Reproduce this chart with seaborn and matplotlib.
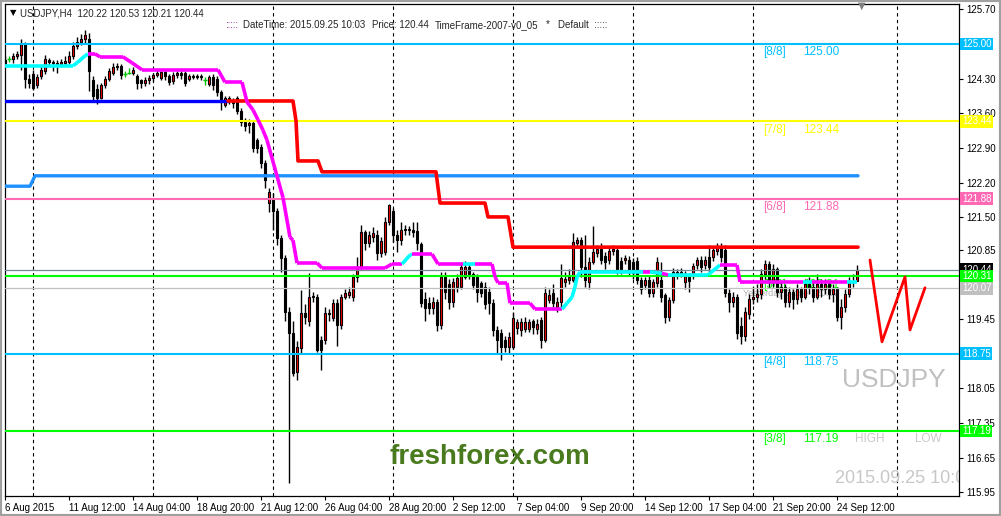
import numpy as np
import pandas as pd
import seaborn as sns
import matplotlib.pyplot as plt
import matplotlib.transforms as mtransforms
from matplotlib.collections import LineCollection
from matplotlib.patches import Rectangle

# ---- H4 candles, USDJPY 6 Aug 20:00 .. 25 Sep 08:00 ----
opens = [124.62, 124.70, 124.70, 124.76, 124.78, 125.00, 124.30, 124.40, 124.17, 124.35,
         124.45, 124.68, 124.64, 124.62, 124.60, 124.62, 124.64, 124.75, 124.95, 125.05,
         125.10, 125.10, 124.27, 124.10, 123.92, 124.17, 124.29, 124.42, 124.54, 124.55,
         124.40, 124.42, 124.42, 124.36, 124.27, 124.21, 124.27, 124.32, 124.37, 124.32,
         124.43, 124.35, 124.26, 124.38, 124.42, 124.42, 124.30, 124.34, 124.36, 124.34,
         124.27, 124.20, 124.33, 124.30, 124.03, 123.77, 123.90, 123.86, 123.90, 123.65,
         123.43, 123.37, 123.40, 123.06, 122.92, 122.60, 121.80, 121.85, 121.62, 121.08,
         120.68, 119.59, 119.17, 118.38, 118.87, 119.57, 119.40, 119.89, 119.89, 119.03,
         119.03, 119.57, 119.47, 119.77, 119.33, 119.89, 119.93, 119.90, 120.30, 120.50,
         121.21, 120.98, 121.10, 121.15, 120.78, 120.80, 121.40, 121.62, 121.15, 121.04,
         121.25, 121.27, 121.24, 121.22, 120.96, 119.85, 119.77, 119.67, 119.80, 119.33,
         120.30, 120.15, 119.80, 120.10, 120.10, 120.30, 120.50, 120.35, 120.30, 120.17,
         120.10, 120.00, 119.77, 119.23, 119.17, 119.03, 118.88, 118.88, 119.27, 119.23,
         119.25, 119.25, 119.40, 119.25, 119.43, 119.03, 119.83, 119.98, 119.70, 119.79,
         120.20, 120.24, 120.24, 120.98, 121.04, 120.50, 120.20, 120.60, 120.78, 120.86,
         120.72, 120.64, 120.82, 120.84, 120.62, 120.64, 120.64, 120.60, 120.62, 120.24,
         120.14, 120.24, 119.98, 120.18, 120.24, 119.93, 119.49, 119.83, 120.40, 120.36,
         120.20, 120.30, 120.34, 120.54, 120.64, 120.54, 120.70, 120.70, 120.82, 120.88,
         120.84, 119.98, 119.79, 119.90, 119.30, 119.10, 119.55, 119.85, 119.90, 119.95,
         120.35, 120.55, 120.20, 120.45, 120.00, 120.10, 119.80, 120.00, 119.85, 120.05,
         119.90, 120.15, 120.10, 119.90, 120.15, 120.05, 120.15, 119.95, 120.05, 119.50,
         119.70, 119.95, 120.20, 120.22]
highs = [124.75, 124.76, 124.82, 124.86, 125.10, 125.05, 124.40, 124.48, 124.40, 124.55,
         124.78, 124.72, 124.68, 124.68, 124.70, 124.75, 124.85, 125.05, 125.15, 125.20,
         125.28, 125.22, 124.35, 124.20, 124.22, 124.35, 124.52, 124.62, 124.62, 124.60,
         124.46, 124.52, 124.54, 124.40, 124.30, 124.33, 124.38, 124.42, 124.48, 124.46,
         124.48, 124.40, 124.44, 124.46, 124.46, 124.46, 124.40, 124.40, 124.40, 124.40,
         124.33, 124.38, 124.40, 124.35, 124.08, 123.95, 123.96, 123.92, 123.95, 123.70,
         123.50, 123.48, 123.45, 123.10, 122.98, 122.65, 122.10, 122.00, 121.70, 121.15,
         120.75, 119.70, 119.40, 119.00, 120.03, 119.75, 120.38, 120.00, 119.95, 119.10,
         119.70, 119.65, 119.85, 119.85, 119.95, 120.05, 120.10, 120.35, 120.70, 121.35,
         121.25, 121.22, 121.30, 121.25, 121.10, 121.50, 121.77, 121.70, 121.25, 121.40,
         121.35, 121.33, 121.40, 121.40, 121.00, 120.00, 119.90, 119.90, 119.85, 120.40,
         120.40, 120.25, 120.28, 120.35, 120.58, 120.62, 120.58, 120.40, 120.35, 120.22,
         120.20, 120.10, 119.85, 119.30, 119.25, 119.10, 119.18, 119.60, 119.45, 119.48,
         119.50, 119.45, 119.45, 119.45, 119.50, 120.10, 120.05, 120.15, 119.90, 120.55,
         120.40, 120.45, 121.18, 121.10, 121.10, 121.15, 120.70, 121.33, 120.95, 120.98,
         120.80, 120.90, 120.94, 120.92, 120.70, 120.75, 120.72, 120.68, 120.70, 120.30,
         120.30, 120.32, 120.25, 120.70, 120.60, 119.98, 119.90, 120.48, 120.45, 120.48,
         120.42, 120.38, 120.58, 120.70, 120.72, 120.72, 120.95, 120.90, 120.99, 120.99,
         120.95, 120.05, 120.00, 119.95, 119.50, 119.70, 119.95, 120.10, 120.15, 120.45,
         120.65, 120.62, 120.55, 120.50, 120.20, 120.15, 120.10, 120.05, 120.15, 120.10,
         120.25, 120.30, 120.20, 120.35, 120.25, 120.25, 120.20, 120.15, 120.10, 119.85,
         120.05, 120.30, 120.35, 120.53]
lows = [124.55, 124.64, 124.62, 124.70, 124.48, 124.12, 124.12, 124.08, 124.12, 124.30,
        124.40, 124.58, 124.45, 124.42, 124.56, 124.58, 124.60, 124.70, 124.90, 124.98,
        125.02, 124.05, 123.87, 123.78, 123.88, 124.12, 124.25, 124.38, 124.48, 124.30,
        124.33, 124.40, 124.38, 124.10, 124.12, 124.15, 124.20, 124.25, 124.33, 124.28,
        124.28, 124.18, 124.20, 124.32, 124.30, 124.16, 124.25, 124.30, 124.30, 124.28,
        124.18, 124.15, 124.08, 123.95, 123.67, 123.72, 123.78, 123.70, 123.58, 123.35,
        123.25, 123.20, 122.82, 122.80, 122.50, 122.10, 121.60, 121.25, 120.95, 120.40,
        119.40, 116.14, 118.30, 118.22, 118.75, 119.35, 119.30, 119.80, 118.78, 118.42,
        118.95, 119.40, 119.40, 118.90, 119.25, 119.85, 119.88, 119.82, 120.20, 120.45,
        120.85, 120.90, 121.00, 120.65, 120.70, 120.75, 121.35, 121.00, 120.80, 120.95,
        121.15, 121.15, 121.10, 120.85, 119.70, 119.40, 119.55, 119.55, 119.20, 119.25,
        119.85, 119.65, 119.70, 120.00, 120.05, 120.25, 120.25, 120.05, 119.80, 119.90,
        119.65, 119.55, 119.10, 118.76, 118.62, 118.78, 118.76, 118.85, 119.15, 119.10,
        119.18, 119.18, 119.15, 119.15, 118.86, 118.98, 119.78, 119.70, 119.60, 119.70,
        120.10, 120.15, 120.20, 120.90, 120.30, 120.10, 120.05, 120.55, 120.70, 120.55,
        120.45, 120.55, 120.75, 120.35, 120.35, 120.55, 120.32, 120.25, 120.15, 119.95,
        120.05, 119.90, 119.90, 120.10, 119.80, 119.37, 119.40, 119.78, 120.25, 120.30,
        120.05, 120.00, 120.25, 120.45, 120.40, 120.45, 120.40, 120.62, 120.75, 120.60,
        119.90, 119.60, 119.70, 119.05, 118.95, 119.00, 119.45, 119.75, 119.80, 119.85,
        120.25, 120.10, 120.10, 119.90, 119.85, 119.70, 119.70, 119.65, 119.75, 119.80,
        119.85, 119.95, 119.80, 119.85, 119.90, 119.95, 119.85, 119.80, 119.40, 119.25,
        119.60, 119.90, 120.10, 120.21]
closes = [124.68, 124.70, 124.76, 124.80, 125.00, 124.30, 124.22, 124.12, 124.33, 124.48,
          124.70, 124.64, 124.62, 124.60, 124.64, 124.66, 124.75, 124.95, 125.05, 125.10,
          125.18, 124.45, 123.95, 123.92, 124.17, 124.29, 124.45, 124.54, 124.56, 124.38,
          124.40, 124.42, 124.48, 124.22, 124.21, 124.27, 124.32, 124.37, 124.42, 124.43,
          124.35, 124.24, 124.38, 124.42, 124.38, 124.22, 124.36, 124.36, 124.34, 124.36,
          124.27, 124.33, 124.17, 124.03, 123.83, 123.90, 123.86, 123.80, 123.65, 123.43,
          123.35, 123.40, 122.90, 122.90, 122.60, 122.25, 122.02, 121.62, 121.08, 120.68,
          119.59, 119.17, 118.36, 118.88, 119.57, 119.50, 119.89, 119.90, 118.82, 118.82,
          119.57, 119.55, 119.77, 119.33, 119.89, 119.97, 120.00, 120.30, 120.50, 121.21,
          120.98, 121.15, 121.18, 120.78, 121.02, 121.40, 121.75, 121.15, 121.04, 121.25,
          121.27, 121.24, 121.20, 120.98, 119.77, 119.67, 119.67, 119.80, 119.33, 120.30,
          120.00, 119.80, 120.20, 120.28, 120.50, 120.50, 120.35, 120.14, 120.00, 119.98,
          119.76, 119.77, 119.23, 119.03, 118.88, 118.88, 119.09, 119.47, 119.39, 119.39,
          119.39, 119.39, 119.29, 119.35, 119.03, 119.97, 119.93, 119.77, 119.80, 120.28,
          120.25, 120.30, 121.00, 121.04, 120.50, 120.24, 120.60, 120.80, 120.86, 120.64,
          120.60, 120.82, 120.86, 120.46, 120.46, 120.68, 120.40, 120.38, 120.24, 120.06,
          120.24, 119.98, 120.20, 120.60, 119.90, 119.49, 119.83, 120.40, 120.36, 120.40,
          120.34, 120.22, 120.52, 120.64, 120.50, 120.64, 120.50, 120.84, 120.88, 120.70,
          119.98, 119.79, 119.90, 119.17, 119.10, 119.60, 119.85, 119.90, 119.95, 120.35,
          120.55, 120.20, 120.45, 120.00, 120.10, 119.80, 120.00, 119.85, 120.05, 119.90,
          120.15, 120.10, 119.90, 120.15, 120.05, 120.15, 119.95, 120.05, 119.50, 119.70,
          119.95, 120.20, 120.22, 120.44]

# x axis: tick every 16 bars
xtick_pos = [0, 16, 32, 48, 64, 80, 96, 112, 128, 144, 160, 176, 192, 208]
xtick_labels = ['6 Aug 2015', '11 Aug 12:00', '14 Aug 04:00', '18 Aug 20:00', '21 Aug 12:00',
                '26 Aug 04:00', '28 Aug 20:00', '2 Sep 12:00', '7 Sep 04:00', '9 Sep 20:00',
                '14 Sep 12:00', '17 Sep 04:00', '21 Sep 20:00', '24 Sep 12:00']
week_seps = [7, 37, 67, 97, 127, 157, 187, 223]
ytick_vals = [125.70, 124.30, 123.60, 122.90, 122.20, 121.50, 120.85, 119.45,
              118.05, 117.35, 116.65, 115.95]

# Murrey math levels
mm_levels = [125.00, 123.44, 121.88, 120.31, 118.75, 117.19]
mm_names = ['[8/8]', '[7/8]', '[6/8]', '[5/8]', '[4/8]', '[3/8]']
mm_colors = ['#00bfff', '#ffff00', '#ff69b4', '#00ff00', '#00bfff', '#00ff00']

last_price = 120.44
yest_close = 120.07

# trend line (knots) and its state per segment: u = cyan, d = magenta
trend_x = [0, 17, 18, 20, 20.75, 22.5, 23.75, 29.5, 31.75, 34.25, 53.25, 55, 59.25, 60.5,
           62, 63.25, 64.5, 65.5, 69.5, 71.25, 72, 73, 78, 79.25, 95, 96.75, 99.25, 101.25,
           101.75, 106.75, 108.25, 114.5, 117.5, 121.75, 122.5, 123.25, 125.5, 126.25,
           131.25, 132.5, 139.25, 140.5, 141.75, 142.5, 143, 143.75, 159.5, 161.25, 164.25,
           165.75, 175.75, 178.75, 183, 183.75, 199.5, 201.75, 210.5, 213]
trend_y = [124.56, 124.56, 124.62, 124.76, 124.80, 124.80, 124.74, 124.74, 124.62, 124.48,
           124.48, 124.23, 124.23, 123.83, 123.67, 123.47, 123.26, 123.06, 121.90, 121.10,
           121.04, 120.58, 120.58, 120.48, 120.48, 120.56, 120.56, 120.74, 120.76, 120.76,
           120.56, 120.56, 120.56, 120.56, 120.30, 120.18, 120.18, 119.77, 119.77, 119.65,
           119.65, 119.77, 119.89, 120.10, 120.30, 120.40, 120.40, 120.40, 120.37, 120.34,
           120.34, 120.54, 120.54, 120.20, 120.20, 120.20, 120.20, 120.20]
trend_state = 'uuuu' + 'd' * 22 + 'uu' + 'ddd' + 'u' + 'd' * 8 + 'u' * 6 + 'dudu' + 'u' + 'ddd' + 'udu'

red_x = [55.75, 72, 72.75, 73.25, 78.25, 79.25, 107.75, 108.75, 120, 120.75, 125.75, 127, 213.25]
red_y = [123.85, 123.85, 123.45, 122.64, 122.64, 122.42, 122.42, 121.79, 121.79, 121.51,
         121.51, 120.90, 120.90]
blue_x = [0, 55.75]
blue_y = [123.85, 123.85]
dodger_x = [0, 6.25, 7.5, 213.25]
dodger_y = [122.13, 122.13, 122.34, 122.34]
zigzag_x = [216.25, 219.25, 225, 226.25, 230]
zigzag_y = [120.64, 118.99, 120.30, 119.23, 120.08]

# ---- figure ----
sns.set_theme(style='white')
plt.rcParams['font.family'] = ['Liberation Sans', 'DejaVu Sans']

fig = plt.figure(figsize=(10.01, 5.16), dpi=100)
ax = fig.add_axes([5 / 1001, 20 / 516, 954 / 1001, 492 / 516])
ax.set_xlim(0, 238.5)
ax.set_ylim(115.878, 125.807)

bars = pd.DataFrame({'o': opens, 'h': highs, 'l': lows, 'c': closes})
bars['i'] = np.arange(len(bars))
flat = (bars.c == bars.o).values
up = (bars.c > bars.o).values

# period separators
for s in week_seps:
    ax.axvline(s, color='black', ls=(0, (3, 3)), lw=0.8, zorder=1)

# candles
ax.vlines(bars.i[~flat], bars.l[~flat], bars.h[~flat], colors='black', lw=1.0, zorder=2)
ax.vlines(bars.i[flat], bars.l[flat], bars.h[flat], colors='#00c000', lw=1.0, zorder=2)
ax.hlines(bars.c[flat], bars.i[flat] - 0.45, bars.i[flat] + 0.45, colors='#00c000', lw=1.0, zorder=2)
body_lo = np.minimum(bars.o, bars.c)
body_h = np.maximum((bars.c - bars.o).abs(), 0.02)
ax.bar(bars.i[~flat], body_h[~flat], bottom=body_lo[~flat], width=0.72,
       color=np.where(up, '#ff0000', 'black')[~flat], edgecolor='black', linewidth=0.8, zorder=2.5)

# horizontal levels
for lvl, col in zip(mm_levels, mm_colors):
    ax.axhline(lvl, color=col, lw=1.5, zorder=3)
ax.axhline(yest_close, color='#c0c0c0', lw=0.9, zorder=3)
ax.axhline(last_price, color='#778899', lw=0.9, zorder=3)

# indicator lines
sns.lineplot(x=blue_x, y=blue_y, color='#0000ff', lw=2.4, ax=ax, sort=False, estimator=None, zorder=4)
sns.lineplot(x=dodger_x, y=dodger_y, color='#1e90ff', lw=2.4, ax=ax, sort=False, estimator=None, zorder=4)
sns.lineplot(x=red_x, y=red_y, color='#ff0000', lw=2.6, ax=ax, sort=False, estimator=None, zorder=4)
sns.lineplot(x=zigzag_x, y=zigzag_y, color='#ff0000', lw=2.0, ax=ax, sort=False, estimator=None, zorder=4)

pts = np.column_stack([trend_x, trend_y])
segs = np.stack([pts[:-1], pts[1:]], axis=1)
seg_cols = ['#00ffff' if s == 'u' else '#ff00ff' for s in trend_state]
ax.add_collection(LineCollection(segs, colors=seg_cols, linewidths=2.6, zorder=4, capstyle='butt'))

# level labels inside the chart
for lvl, name, col in zip(mm_levels, mm_names, mm_colors):
    ax.text(189.5, lvl - 0.17, name, color=col, fontsize=8.5, va='center', ha='left', zorder=1.5)
    ax.text(199.5, lvl - 0.17, f'{lvl:.2f}', color=col, fontsize=8.5, va='center', ha='left', zorder=1.5)
ax.text(184.5, 119.97, 'Yesterday Close 120.07', color='#b0b0b0', fontsize=6.5, va='center',
        ha='left', zorder=1.5)
ax.text(209.2, 118.22, 'USDJPY', color='#c0c0c0', fontsize=19, va='center', ha='left', zorder=1.5)
ax.text(212.5, 117.02, 'HIGH', color='#c8c8c8', fontsize=8.5, va='center', ha='left', zorder=1.5)
ax.text(227.5, 117.02, 'LOW', color='#c8c8c8', fontsize=8.5, va='center', ha='left', zorder=1.5)
ax.text(207.5, 116.24, '2015.09.25 10:03', color='#c8c8c8', fontsize=13, va='center', ha='left',
        zorder=1.5, clip_on=True)
ax.text(96.2, 116.66, 'freshforex.com', color='#4a7a1e', fontsize=20, fontweight='bold',
        va='center', ha='left', zorder=1.5)

# axes styling
for sp in ax.spines.values():
    sp.set_color('black')
    sp.set_linewidth(0.9)
ax.yaxis.tick_right()
ax.set_yticks(ytick_vals)
ax.set_yticklabels([f'{v:.2f}' for v in ytick_vals])
ax.set_xticks(xtick_pos)
ax.set_xticklabels(xtick_labels, ha='left')
ax.tick_params(axis='y', right=True, left=False, length=3, width=0.8, direction='out',
               labelsize=7, pad=2, colors='black')
ax.tick_params(axis='x', bottom=True, length=3, width=0.8, direction='out',
               labelsize=7, pad=2, colors='black')
ax.grid(False)
ax.set_xlabel('')
ax.set_ylabel('')

# price boxes on the right scale
trans = mtransforms.blended_transform_factory(ax.transAxes, ax.transData)


def price_box(y, fc, tc='white'):
    ax.text(1.003, y, f'{y:.2f}', transform=trans, ha='left', va='center', fontsize=7, color=tc,
            bbox=dict(boxstyle='square,pad=0.15', fc=fc, ec='none'), clip_on=False, zorder=10)


price_box(last_price, 'black')
for lvl, col in zip(mm_levels, mm_colors):
    price_box(lvl, col)
price_box(yest_close, '#c0c0c0')

# header
fig.text(10 / 1001, 1 - 13 / 516, '▼', fontsize=6, va='center', family='DejaVu Sans', color='black')
fig.text(20 / 1001, 1 - 13 / 516, 'USDJPY,H4  120.22 120.53 120.21 120.44', fontsize=7, va='center')
fig.text(225 / 1001, 1 - 25 / 516, ':::::', fontsize=7, va='center', color='#800080')
fig.text(243 / 1001, 1 - 25 / 516, 'DateTime: 2015.09.25 10:03', fontsize=7, va='center')
fig.text(372 / 1001, 1 - 25 / 516, 'Price: 120.44', fontsize=7, va='center')
fig.text(435 / 1001, 1 - 25 / 516, 'TimeFrame-2007-v0_05', fontsize=7, va='center')
fig.text(546 / 1001, 1 - 24 / 516, '*', fontsize=7, va='center')
fig.text(558 / 1001, 1 - 25 / 516, 'Default  :::::', fontsize=7, va='center')
fig.text(862 / 1001, 1 - 6 / 516, '▼', fontsize=7, va='center', ha='center',
         family='DejaVu Sans', color='#808080')

# outer frame of the terminal window
fig.patches.append(Rectangle((0, 0), 1, 1, transform=fig.transFigure, fill=False,
                             ec='#a0a0a0', lw=3, zorder=0))

fig.savefig('out.png', dpi=100)
